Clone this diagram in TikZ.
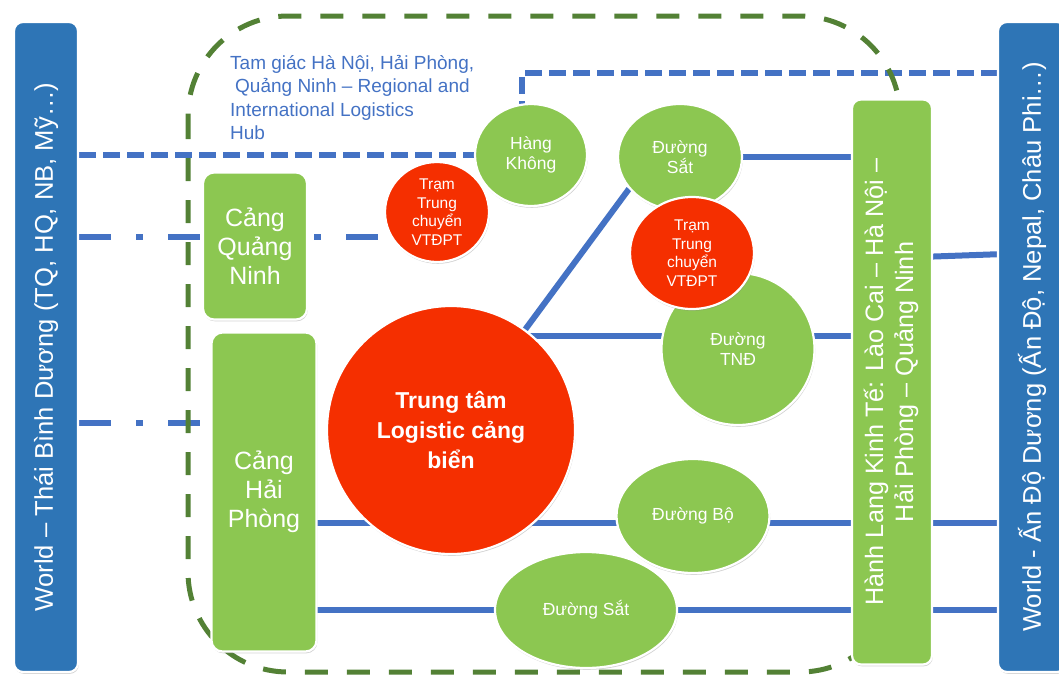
\documentclass[tikz,border=0pt]{standalone}
\usepackage{fontspec}
\setmainfont{Liberation Sans}
\usetikzlibrary{shapes.geometric,shadows,backgrounds}
\definecolor{barblue}{HTML}{2E75B6}
\definecolor{linkblue}{HTML}{4472C4}
\definecolor{nodegreen}{HTML}{8CC751}
\definecolor{hubred}{HTML}{F52F00}
\definecolor{zonegreen}{HTML}{538135}
\tikzset{plate/.style={draw=white,line width=2.2pt,inner sep=0pt,text=white,
		drop shadow={shadow xshift=0.8pt,shadow yshift=-1.8pt,opacity=0.35}},
	worldbar/.style={plate,rectangle,rounded corners=9pt,fill=barblue,
		minimum width=64pt,minimum height=650pt,font=\fontsize{25.6}{29}\selectfont},
	portbox/.style={plate,rectangle,rounded corners=11pt,fill=nodegreen,align=center,
		font=\fontsize{25}{29}\selectfont},
	transport/.style={plate,ellipse,fill=nodegreen,align=center,
		font=\fontsize{17.5}{20}\selectfont},
	tram/.style={plate,ellipse,fill=hubred,align=center,
		font=\fontsize{15.5}{18.5}\selectfont},
	blueline/.style={draw=linkblue,line width=6pt},
	bluedash/.style={blueline,line width=5.5pt,dash pattern=on 17pt off 7pt},
	bluedashdot/.style={blueline,dash pattern=on 32pt off 25pt on 7pt off 25pt},
	zoneline/.style={draw=zonegreen,line width=5pt,dash pattern=on 23pt off 19pt,
		rounded corners=100pt}}

\begin{document}
\begin{tikzpicture}[x=1pt,y=-1pt]
\useasboundingbox (0,0) rectangle (1059,675);
% world sides
\node[worldbar] (wl) at (46,347) {\rotatebox{90}{World – Thái Bình Dương (TQ, HQ, NB, Mỹ…)}};
\node[worldbar,minimum width=68pt] (wr) at (1032,347) {\rotatebox{90}{World - Ấn Độ Dương (Ấn Độ, Nepal, Châu Phi…)}};
\node[portbox,minimum width=80pt,minimum height=565pt,rounded corners=9pt,
	font=\fontsize{25.2}{30}\selectfont] (hl) at (892,382)
	{\rotatebox{90}{\begin{tabular}{@{}c@{}}Hành Lang Kinh Tế: Lào Cai – Hà Nội –\\Hải Phòng – Quảng Ninh\end{tabular}}};
% ports
\node[portbox,minimum width=104pt,minimum height=147pt] (cqn) at (255,246) {Cảng\\Quảng\\Ninh};
\node[portbox,minimum width=105pt,minimum height=319pt] (chp) at (264,492) {Cảng\\Hải\\Phòng};
% hub and transport modes
\node[plate,circle,fill=hubred,minimum size=248pt,align=center,
	font=\fontsize{23}{30}\selectfont\bfseries] (ctr) at (451,430) {Trung tâm\\Logistic cảng\\biển};
\node[tram,minimum width=104pt,minimum height=100pt] (tram1) at (437,212) {Trạm\\Trung\\chuyển\\VTĐPT};
\node[transport,minimum width=112pt,minimum height=102pt] (hk) at (531,155) {Hàng\\Không};
\node[transport,minimum width=124pt,minimum height=106pt] (dsat) at (680,157) {Đường\\Sắt};
\node[transport,minimum width=153pt,minimum height=152pt] (tnd) at (738,349) {Đường\\TNĐ};
\node[tram,minimum width=124pt,minimum height=112pt] (tram2) at (692,253) {Trạm\\Trung\\chuyển\\VTĐPT};
\node[transport,minimum width=153pt,minimum height=114pt] (dbo) at (693,516) {Đường Bộ};
\node[transport,minimum width=182pt,minimum height=116pt] (dsat2) at (586,610) {Đường Sắt};
\node[text=linkblue,anchor=north west,align=left,inner sep=0pt,
	font=\fontsize{19}{23.5}\selectfont] (zonetxt) at (230,55)
	{Tam giác Hà Nội, Hải Phòng,\\\hspace{5pt}Quảng Ninh – Regional and\\International Logistics\\Hub};
\coordinate (kinka) at (522,155);
\coordinate (kinkb) at (522,73);
\begin{pgfonlayer}{background}
\draw[bluedash] (wl.east |- kinka) -- (kinka) -- (kinkb) -- (wr.west |- kinkb);
\draw[bluedashdot] (wl.east |- 0,237) -- (tram1.center |- 0,237);
\draw[bluedashdot] (wl.east |- 0,423) -- (chp.center |- 0,423);
\draw[blueline] (dsat.center) -- (hl.center |- dsat.center);
\draw[blueline] (ctr.center) -- (dsat.212);
\draw[blueline] (ctr.center |- 0,336) -- (hl.center |- 0,336);
\draw[blueline] (hl.center |- 0,258) -- (wr.center |- 0,253);
\draw[blueline] (chp.center |- 0,523) -- (wr.center |- 0,523);
\draw[blueline] (chp.center |- 0,610) -- (wr.center |- 0,610);
\draw[zoneline] (188,16) rectangle (900,672);
\end{pgfonlayer}
\end{tikzpicture}
\end{document}
